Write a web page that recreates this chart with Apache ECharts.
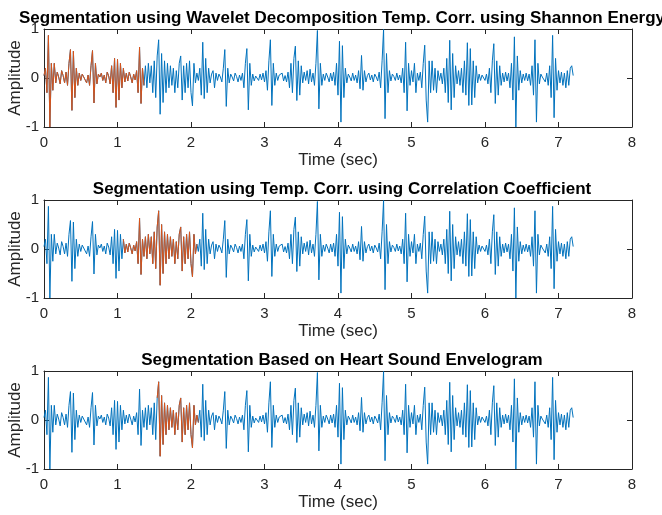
<!DOCTYPE html>
<html>
<head>
<meta charset="utf-8">
<script src="https://cdn.jsdelivr.net/npm/echarts@6/dist/echarts.min.js"></script>
<style>
html,body{margin:0;padding:0;background:#fff;}
#chart{width:662px;height:515px;}
</style>
</head>
<body>
<div id="chart"></div>
<script>
// Sample spacing (sec)
const dt = 0.02;
// Signal amplitude, one array per second of recording (50 samples each)
const sec0 = [0.05,0.2,-0.3,0.87,-1.0,0.3,-0.25,0.3,-0.1,0.12,0.02,-0.12,0.15,0.05,-0.1,0.12,-0.15,0.3,0.58,-0.66,0.55,-0.4,0.2,-0.15,0.1,-0.05,0.08,0.12,-0.04,-0.1,0.06,-0.15,0.25,0.56,-0.51,0.3,-0.12,0.08,0.02,0.1,-0.05,0.06,-0.1,0.12,0.04,-0.12,0.25,-0.3,0.4,-0.6];
const sec1 = [0.38,-0.45,0.3,-0.2,0.2,-0.08,0.1,-0.06,0.12,0.02,-0.1,0.08,-0.04,0.15,-0.3,0.63,-0.52,0.2,-0.15,0.25,-0.2,0.3,-0.1,0.25,-0.3,0.35,-0.4,0.45,0.78,-0.74,0.5,-0.5,0.35,-0.3,0.3,-0.2,0.25,-0.15,0.2,-0.3,0.15,-0.2,0.3,0.45,-0.45,0.25,-0.3,0.3,-0.2,0.35];
const sec2 = [-0.3,-0.57,0.3,-0.1,0.1,-0.05,0.2,-0.35,0.73,-0.42,0.4,-0.3,0.2,-0.1,0.08,0.15,-0.2,0.1,-0.05,0.08,0.02,-0.08,0.2,0.58,-0.58,0.2,-0.1,0.08,0.02,-0.06,0.1,0.03,-0.08,0.06,-0.05,0.1,-0.2,0.3,0.6,-0.65,0.3,-0.15,0.08,-0.06,0.04,0.06,-0.05,0.08,-0.04,0.1];
const sec3 = [-0.08,0.15,-0.25,0.35,0.78,-0.56,0.3,-0.15,0.1,-0.05,0.06,0.02,0.1,-0.06,0.05,-0.08,0.12,-0.2,0.3,-0.3,0.4,0.65,-0.46,0.35,-0.35,0.25,-0.1,0.12,-0.05,0.15,-0.12,0.18,-0.08,0.1,-0.15,0.3,0.97,-0.63,0.3,-0.15,0.08,-0.05,0.1,0.02,-0.08,0.1,-0.06,0.12,-0.15,0.3];
const sec4 = [-0.35,0.75,-0.9,0.66,-0.4,0.2,-0.1,0.08,0.02,-0.06,0.1,-0.05,0.06,-0.1,0.15,-0.22,0.46,-0.25,0.15,-0.08,0.05,0.1,-0.04,0.06,-0.08,0.08,0.02,-0.06,0.12,-0.2,0.35,0.99,-0.83,0.5,-0.3,0.15,-0.06,0.08,0.03,-0.05,0.1,-0.04,0.06,-0.1,0.2,-0.3,0.73,-0.67,0.3,-0.15];
const sec5 = [0.15,-0.08,0.3,-0.3,0.1,-0.05,0.12,-0.2,0.3,0.67,-0.45,-0.9,0.35,-0.3,0.35,-0.25,0.2,-0.3,0.15,-0.05,0.1,-0.12,0.2,-0.3,0.4,-0.5,0.77,-0.65,0.5,-0.4,0.25,-0.12,0.15,-0.15,0.2,-0.3,0.35,-0.35,0.72,-0.56,0.6,-0.55,0.35,-0.4,0.25,-0.1,0.08,-0.05,0.06,0.1];
const sec6 = [-0.05,0.08,-0.12,0.2,-0.3,0.35,0.7,-0.52,0.35,-0.35,0.25,-0.15,0.1,-0.08,0.12,-0.06,0.1,-0.2,0.3,-0.45,0.84,-1.0,0.45,-0.25,0.15,-0.1,0.08,-0.05,0.1,-0.06,0.08,-0.15,0.25,-0.35,0.78,-0.9,0.3,-0.12,0.08,0.02,0.06,-0.08,0.1,-0.15,0.25,-0.4,0.87,-0.81,0.4,-0.25];
const sec7 = [0.15,-0.1,0.12,-0.15,0.1,-0.2,0.15,-0.15,0.2,0.25,0.05];

// Subplot titles and highlighted segment (sec)
const titles = [
  'Segmentation using Wavelet Decomposition Temp. Corr. using Shannon Energy',
  'Segmentation using Temp. Corr. using Correlation Coefficient',
  'Segmentation Based on Heart Sound Envelogram'
];
const segStart = [0, 1.07, 1.54];
const segEnd = [1.37, 2.09, 2.11];
const xTicks = [0, 1, 2, 3, 4, 5, 6, 7, 8];
const yTicks = [-1, 0, 1];

const signal = [].concat(sec0, sec1, sec2, sec3, sec4, sec5, sec6, sec7);
const pts = signal.map((v, i) => [Math.round(i * dt * 1000) / 1000, v]);

const BLUE = '#0072BD', ORANGE = '#D95319', AX = '#262626';
const tops = [29, 200, 371];
const H = 98, L = 44, W = 588;
const FONT = '"Liberation Sans", Arial, Helvetica, sans-serif';

const grid = [], xAxis = [], yAxis = [], series = [], title = [];
tops.forEach((top, g) => {
  grid.push({left: L, top: top, width: W, height: H, show: false,
    containLabel: false, outerBoundsMode: 'none'});
  title.push({
    text: titles[g], left: L + W / 2 - 1, textAlign: 'center', top: top - 24,
    textStyle: {fontFamily: FONT, fontSize: 17, fontWeight: 'bold', color: '#000'}
  });
  const common = {min: 0, max: 8, interval: 1, gridIndex: g, type: 'value'};
  xAxis.push(Object.assign({}, common, {
    position: 'bottom',
    name: 'Time (sec)', nameLocation: 'middle', nameGap: 25, nameMoveOverlap: false,
    nameTextStyle: {fontFamily: FONT, fontSize: 17, color: AX},
    axisLine: {show: true, onZero: false, lineStyle: {color: AX, width: 1}},
    axisTick: {show: true, inside: true, length: 5, lineStyle: {color: AX}},
    axisLabel: {fontFamily: FONT, fontSize: 15, color: AX, margin: 8,
      formatter: v => xTicks.includes(v) ? String(v) : ''},
    splitLine: {show: false}
  }));
  xAxis.push(Object.assign({}, common, {
    position: 'top',
    axisLine: {show: true, onZero: false, lineStyle: {color: AX, width: 1}},
    axisTick: {show: true, inside: true, length: 5, lineStyle: {color: AX}},
    axisLabel: {show: false}, splitLine: {show: false}
  }));
  const ycommon = {min: -1, max: 1, interval: 1, gridIndex: g, type: 'value'};
  yAxis.push(Object.assign({}, ycommon, {
    position: 'left',
    name: 'Amplitude', nameLocation: 'middle', nameGap: 20, nameRotate: 90, nameMoveOverlap: false,
    nameTextStyle: {fontFamily: FONT, fontSize: 17, color: AX},
    axisLine: {show: true, onZero: false, lineStyle: {color: AX, width: 1}},
    axisTick: {show: true, inside: true, length: 5, lineStyle: {color: AX}},
    axisLabel: {fontFamily: FONT, fontSize: 15, color: AX, margin: 5,
      formatter: v => yTicks.includes(v) ? String(v) : ''},
    splitLine: {show: false}
  }));
  yAxis.push(Object.assign({}, ycommon, {
    position: 'right',
    axisLine: {show: true, onZero: false, lineStyle: {color: AX, width: 1}},
    axisTick: {show: true, inside: true, length: 5, lineStyle: {color: AX}},
    axisLabel: {show: false}, splitLine: {show: false}
  }));
  series.push({
    type: 'line', xAxisIndex: 2 * g, yAxisIndex: 2 * g, data: pts,
    showSymbol: false, symbol: 'none', silent: true,
    lineStyle: {color: BLUE, width: 1}, z: 2
  });
  series.push({
    type: 'line', xAxisIndex: 2 * g, yAxisIndex: 2 * g,
    data: pts.filter(p => p[0] >= segStart[g] - 1e-9 && p[0] <= segEnd[g] + 1e-9),
    showSymbol: false, symbol: 'none', silent: true,
    lineStyle: {color: ORANGE, width: 1}, z: 3
  });
});

const chart = echarts.init(document.getElementById('chart'), null, {renderer: 'canvas'});
chart.setOption({animation: false, backgroundColor: '#fff', title, grid, xAxis, yAxis, series});
</script>
</body>
</html>
